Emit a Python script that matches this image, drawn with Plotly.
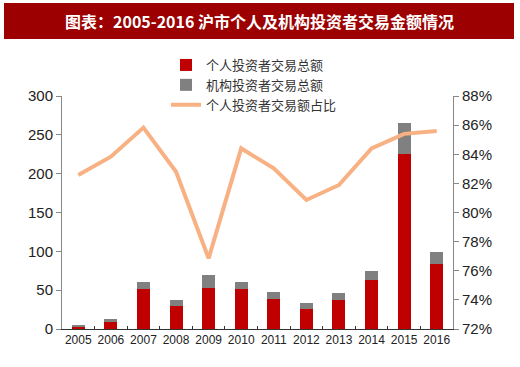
import plotly.graph_objects as go

years = ["2005", "2006", "2007", "2008", "2009", "2010", "2011", "2012", "2013", "2014", "2015", "2016"]
individual = [3, 9.4, 51.5, 29, 53, 51, 39, 26, 37, 62.6, 225, 84]
total = [5, 12.5, 61, 37, 70, 61, 47.6, 33.5, 46, 75, 265, 99]
institution = [round(t - i, 2) for t, i in zip(total, individual)]
share = [82.57, 83.83, 85.83, 82.8, 76.85, 84.4, 83.03, 80.86, 81.89, 84.4, 85.4, 85.6]

W, H = 520, 367
L, R, T, B = 62, 67, 96, 38
pw, ph = W - L - R, H - T - B

def px(x):
    return (x - L) / pw

def py(y):
    return (H - B - y) / ph

fig = go.Figure()
fig.add_trace(go.Bar(x=years, y=individual, name="个人投资者交易总额",
                     marker=dict(color="#C00000", line=dict(width=0)), width=0.4))
fig.add_trace(go.Bar(x=years, y=institution, name="机构投资者交易总额",
                     marker=dict(color="#808080", line=dict(width=0)), width=0.4))
fig.add_trace(go.Scatter(x=years, y=share, name="个人投资者交易额占比", yaxis="y2",
                         mode="lines", line=dict(color="#F7B183", width=4)))

fig.update_layout(
    width=W, height=H,
    margin=dict(l=L, r=R, t=T, b=B, autoexpand=False),
    paper_bgcolor="white", plot_bgcolor="white",
    barmode="stack",
    showlegend=True,
    legend=dict(x=px(166), y=py(50), xanchor="left", yanchor="top",
                traceorder="normal", bgcolor="rgba(0,0,0,0)",
                font=dict(family="Noto Sans CJK SC", size=13, color="#333333"),
                itemwidth=30, tracegroupgap=0),
    font=dict(family="Liberation Sans, Arial", color="#222222"),
    xaxis=dict(type="category", showline=True, linecolor="#333333", linewidth=1,
               ticks="inside", ticklen=3, tickson="boundaries", tickcolor="#333333",
               tickangle=0, automargin=False,
               tickfont=dict(size=12, color="#222222"), showgrid=False, zeroline=False),
    yaxis=dict(range=[0, 300], dtick=50, showline=True, linecolor="#888888", linewidth=1,
               ticks="outside", ticklen=5, tickcolor="#888888", showgrid=False, zeroline=False,
               automargin=False, tickfont=dict(size=15, color="#222222")),
    yaxis2=dict(range=[72, 88], dtick=2, overlaying="y", side="right", showline=True,
                linecolor="#888888", linewidth=1, ticks="outside", ticklen=5,
                tickcolor="#888888", showgrid=False, zeroline=False, ticksuffix="%",
                automargin=False, tickfont=dict(size=15, color="#222222")),
    shapes=[dict(type="rect", xref="paper", yref="paper",
                 x0=px(4), x1=px(514), y0=py(39), y1=py(3),
                 fillcolor="#9C0000", line=dict(width=0), layer="below")],
    annotations=[dict(text="<b>图表：2005-2016 沪市个人及机构投资者交易金额情况</b>",
                      xref="paper", yref="paper", x=px(259), y=py(21),
                      xanchor="center", yanchor="middle", showarrow=False,
                      font=dict(family="Noto Sans CJK SC", size=16, color="white"))],
)

fig.write_html("out.html", config={"displayModeBar": False},
               post_script="document.body.style.margin='0';")
